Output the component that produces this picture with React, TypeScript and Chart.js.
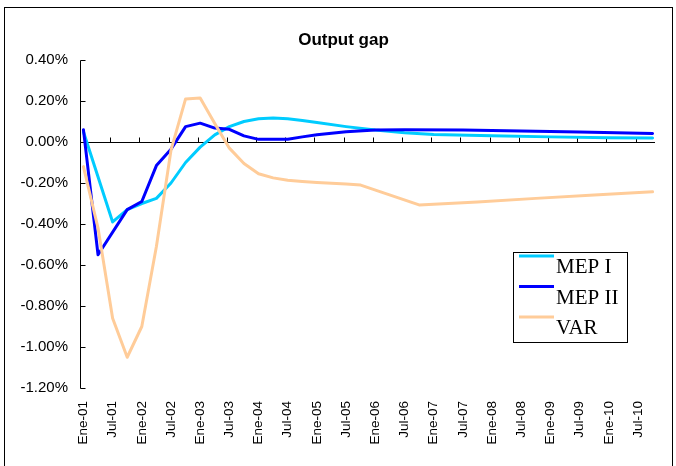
import React, { useEffect, useRef } from "react";
import { Chart, registerables } from "chart.js";

Chart.register(...registerables);

// ---- categories (monthly, Ene-01 .. Oct-10) ----
const monthNames = ["Ene", "Feb", "Mar", "Abr", "May", "Jun", "Jul", "Ago", "Sep", "Oct", "Nov", "Dic"];
const yearLabels = ["01", "02", "03", "04", "05", "06", "07", "08", "09", "10"];
const lastCategory = "Oct-10";
const categories: string[] = [];
(() => {
  for (const yy of yearLabels) {
    for (const m of monthNames) {
      const lab = `${m}-${yy}`;
      categories.push(lab);
      if (lab === lastCategory) return;
    }
  }
})();

// ---- series (values in %) ----
const mepIDates = ["Ene-01", "Jul-01", "Oct-01", "Ene-02", "Abr-02", "Jul-02", "Oct-02", "Ene-03", "Abr-03", "Jul-03", "Oct-03", "Ene-04", "Abr-04", "Jul-04", "Oct-04", "Ene-05", "Jul-05", "Ene-06", "Jul-06", "Ene-07", "Ene-08", "Ene-09", "Ene-10", "Oct-10"];
const mepIValues = [0.05, -0.39, -0.33, -0.30, -0.275, -0.20, -0.10, -0.025, 0.035, 0.075, 0.10, 0.113, 0.117, 0.113, 0.105, 0.095, 0.075, 0.058, 0.045, 0.037, 0.03, 0.025, 0.021, 0.019];

const mepIIDates = ["Ene-01", "Abr-01", "Oct-01", "Ene-02", "Abr-02", "Jul-02", "Oct-02", "Ene-03", "Abr-03", "Jul-03", "Oct-03", "Ene-04", "Jul-04", "Oct-04", "Ene-05", "Jul-05", "Ene-06", "Jul-06", "Jul-07", "Jul-08", "Jul-09", "Oct-10"];
const mepIIValues = [0.06, -0.55, -0.33, -0.29, -0.115, -0.035, 0.075, 0.092, 0.068, 0.062, 0.03, 0.013, 0.013, 0.025, 0.035, 0.05, 0.058, 0.06, 0.058, 0.054, 0.049, 0.042];

const varDates = ["Ene-01", "Abr-01", "Jul-01", "Oct-01", "Ene-02", "Abr-02", "Jul-02", "Oct-02", "Ene-03", "Abr-03", "Jul-03", "Oct-03", "Ene-04", "Abr-04", "Jul-04", "Oct-04", "Ene-05", "Jul-05", "Oct-05", "Oct-06", "Oct-07", "Oct-08", "Oct-09", "Oct-10"];
const varValues = [-0.12, -0.42, -0.86, -1.05, -0.90, -0.51, -0.04, 0.21, 0.215, 0.09, -0.03, -0.105, -0.155, -0.175, -0.187, -0.193, -0.198, -0.205, -0.21, -0.307, -0.293, -0.275, -0.258, -0.243];

const seriesNames = ["MEP I", "MEP II", "VAR"];
const seriesColors = ["#00CCFF", "#0000FF", "#FFCC99"];

const yMin = -1.2;
const yMax = 0.4;
const yStep = 0.2;
const labelEvery = 6;

const toPoints = (dates: string[], vals: number[]) => dates.map((d, k) => ({ x: d, y: vals[k] }));

const decor = {
  id: "decor",
  beforeDraw(chart: any) {
    const ctx = chart.ctx;
    ctx.save();
    ctx.fillStyle = "#fff";
    ctx.fillRect(0, 0, chart.width, chart.height);
    ctx.strokeStyle = "#000";
    ctx.lineWidth = 1;
    ctx.strokeRect(4.5, 7.5, 668, 480);
    ctx.restore();
  },
  beforeDatasetsDraw(chart: any) {
    const { ctx, chartArea: a, scales } = chart;
    const x = scales.x;
    const y = scales.y;
    ctx.save();
    ctx.strokeStyle = "#000";
    ctx.lineWidth = 1;
    ctx.beginPath();
    const ax = Math.round(a.left) - 0.5;
    ctx.moveTo(ax, Math.round(a.top) + 0.5);
    ctx.lineTo(ax, Math.round(a.bottom) + 0.5);
    y.ticks.forEach((t: any) => {
      const py = Math.round(y.getPixelForValue(t.value)) + 0.5;
      ctx.moveTo(ax, py);
      ctx.lineTo(ax + 5, py);
    });
    const zy = Math.round(y.getPixelForValue(0)) + 0.5;
    ctx.moveTo(a.left, zy);
    ctx.lineTo(a.right, zy);
    const half = (x.getPixelForValue(1) - x.getPixelForValue(0)) / 2;
    for (let i = labelEvery; i < categories.length; i += labelEvery) {
      const px = Math.round(x.getPixelForValue(i) - half) + 0.5;
      ctx.moveTo(px, zy);
      ctx.lineTo(px, zy - 5);
    }
    ctx.stroke();
    ctx.restore();
  },
  afterDraw(chart: any) {
    const ctx = chart.ctx;
    ctx.save();
    ctx.fillStyle = "#fff";
    ctx.fillRect(513, 252, 115, 91);
    ctx.strokeStyle = "#000";
    ctx.lineWidth = 1;
    ctx.strokeRect(513.5, 252.5, 114, 90);
    ctx.font = "21px 'Liberation Serif', 'Times New Roman', serif";
    ctx.textBaseline = "alphabetic";
    ctx.textAlign = "left";
    seriesNames.forEach((name, k) => {
      const ly = 256 + k * 30.5;
      ctx.strokeStyle = seriesColors[k];
      ctx.lineWidth = 3;
      ctx.beginPath();
      ctx.moveTo(519, ly);
      ctx.lineTo(554, ly);
      ctx.stroke();
      ctx.fillStyle = "#000";
      ctx.fillText(name, 556, 273 + k * 30.5);
    });
    ctx.restore();
  },
};

export default function App() {
  const ref = useRef<HTMLCanvasElement>(null);
  useEffect(() => {
    Chart.defaults.font.family = "'Liberation Sans', Arial, sans-serif";
    Chart.defaults.color = "#000";
    const allPoints = [toPoints(mepIDates, mepIValues), toPoints(mepIIDates, mepIIValues), toPoints(varDates, varValues)];
    const chart = new Chart(ref.current as HTMLCanvasElement, {
      type: "line",
      data: {
        labels: categories,
        datasets: allPoints.map((pts, k) => ({
          label: seriesNames[k],
          data: pts as any,
          borderColor: seriesColors[k],
          backgroundColor: seriesColors[k],
          borderWidth: 3,
          pointRadius: 0,
          pointHoverRadius: 0,
          tension: 0,
          fill: false,
          borderJoinStyle: "round" as const,
          borderCapStyle: "round" as const,
          order: 3 - k,
          yAxisID: "y",
        })),
      },
      options: {
        animation: false,
        responsive: false,
        maintainAspectRatio: false,
        layout: { padding: { left: 11, right: 0, top: 0, bottom: 0 } },
        plugins: {
          legend: { display: false },
          tooltip: { enabled: false },
          title: {
            display: true,
            text: "Output gap",
            color: "#000",
            font: { size: 17, weight: "bold" },
            padding: { top: 30.3, bottom: 9.3 },
          },
        },
        scales: {
          x: {
            type: "category",
            offset: true,
            grid: { display: false, drawTicks: false, offset: true },
            border: { display: false },
            ticks: {
              autoSkip: false,
              maxRotation: 90,
              minRotation: 90,
              padding: 13,
              font: { size: 13.5 },
              color: "#000",
              callback: (_v: any, i: number) => (i % labelEvery === 0 ? categories[i] : ""),
            },
            afterFit: (s: any) => {
              s.height = 78;
              s.paddingLeft = 0;
              s.paddingRight = 0;
            },
          },
          y: {
            position: "left",
            min: yMin,
            max: yMax,
            grid: { display: false, drawTicks: false },
            border: { display: false },
            ticks: {
              stepSize: yStep,
              padding: 13,
              font: { size: 15 },
              color: "#000",
              callback: (v: any) => {
                const n = Math.abs(Number(v)) < 1e-9 ? 0 : Number(v);
                return n.toFixed(2) + "%";
              },
            },
            afterFit: (s: any) => {
              s.width = 70;
            },
          },
          yR: {
            position: "right",
            display: true,
            grid: { display: false, drawTicks: false },
            border: { display: false },
            ticks: { display: false },
            afterFit: (s: any) => {
              s.width = 21;
            },
          },
        },
      },
      plugins: [decor],
    });
    return () => chart.destroy();
  }, []);
  return (
    <div style={{ position: "fixed", left: 0, top: 0, width: 676, height: 466, background: "#fff" }}>
      <canvas ref={ref} width={676} height={466} style={{ display: "block", width: 676, height: 466 }} />
    </div>
  );
}
